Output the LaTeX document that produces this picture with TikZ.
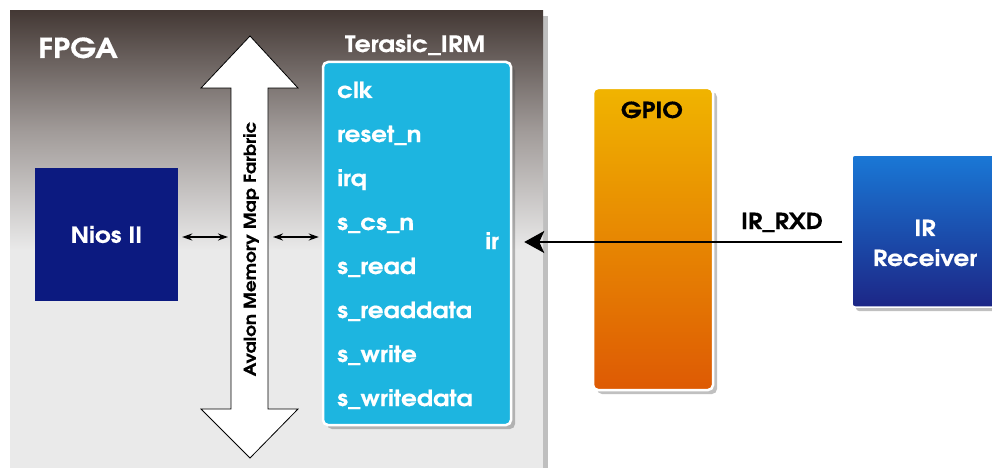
\documentclass[tikz,border=0pt]{standalone}
\usepackage{fontspec}
\setmainfont[FakeStretch=1.12]{TeX Gyre Adventor}
\newfontfamily\lblfont[FakeStretch=1.12, FakeBold=0.4]{TeX Gyre Adventor}
\usetikzlibrary{shadows,arrows.meta}
\definecolor{fpgatop}{HTML}{443935}
\definecolor{fpgamid}{HTML}{A19B99}
\definecolor{fpgabot}{HTML}{EAEAEA}
\definecolor{niosblue}{HTML}{0C1A80}
\definecolor{irmcyan}{HTML}{1DB5E0}
\definecolor{gpiotop}{HTML}{F0B400}
\definecolor{gpiobot}{HTML}{DE5A04}
\definecolor{irtop}{HTML}{1A78D6}
\definecolor{irbot}{HTML}{1C2686}
\tikzset{
  lbl/.style={font=\lblfont\bfseries\fontsize{22}{26}\selectfont, inner sep=0pt},
  sig/.style={lbl, text=white, anchor=base west},
  boxshadow/.style={drop shadow={shadow xshift=4pt, shadow yshift=-4pt, opacity=0.35, fill=black!70}},
  smallarrow/.style={{Stealth[length=10pt,width=7pt]}-{Stealth[length=10pt,width=7pt]}, line width=1.7pt},
}
\begin{document}
\begin{tikzpicture}[x=1pt,y=-1pt]
\clip (0,0) rectangle (992,468);
\fill[white] (0,0) rectangle (992,468);
% FPGA region
\fill[black!25] (543,16) rectangle (548,468);
\shade[top color=fpgatop, bottom color=fpgabot, middle color=fpgamid] (10,11) rectangle (543,251);
\fill[fpgabot] (10,250) rectangle (543,468);
\node[lbl, text=white, font=\lblfont\bfseries\fontsize{27.5}{30}\selectfont, anchor=base west] (fpga) at (38,58) {FPGA};
% Nios II
\node[fill=niosblue, minimum width=143pt, minimum height=133pt, inner sep=0pt] (nios) at (106.5,234.5) {};
\node[lbl, text=white] (niostext) at (nios.center) {Nios II};
% Avalon bus arrow
\draw[fill=white, line width=0.8pt] (231,88) -- (201,88) -- (250,36) -- (298,88) -- (268,88) -- (268,409) -- (298,409) -- (250,458) -- (201,409) -- (231,409) -- cycle;
\coordinate (busL) at (231,237);
\coordinate (busR) at (268,237);
\node[lbl, rotate=90, font=\lblfont\bfseries\fontsize{16.5}{18}\selectfont] (bustext) at (251,249) {Avalon Memory Map Farbric};
% Terasic_IRM
\node[lbl, text=white, font=\lblfont\bfseries\fontsize{22.5}{24}\selectfont, anchor=base] (irmtitle) at (415,52) {Terasic\_IRM};
\node[fill=irmcyan, draw=white, line width=2.5pt, rounded corners=5pt, minimum width=188pt, minimum height=363pt, boxshadow] (irm) at (417,243.5) {};
\node[sig] (clk) at (337,98) {clk};
\node[sig] (rst) at (337,142) {reset\_n};
\node[sig] (irq) at (337,186) {irq};
\node[sig] (cs) at (337,230) {s\_cs\_n};
\node[sig] (rd) at (337,274) {s\_read};
\node[sig] (rdd) at (337,318) {s\_readdata};
\node[sig] (wr) at (337,362) {s\_write};
\node[sig] (wrd) at (337,406) {s\_writedata};
\node[sig] (ir) at (485,249) {ir};
% small connectors
\draw[smallarrow] ([xshift=4pt]nios.east |- busL) -- ([xshift=-3pt]busL);
\draw[smallarrow] ([xshift=5pt]busR) -- ([xshift=-3pt]irm.west |- busR);
% GPIO
\node[top color=gpiotop, bottom color=gpiobot, draw=white, line width=2.5pt, rounded corners=5pt, minimum width=120pt, minimum height=302pt, boxshadow] (gpio) at (653,239) {};
\node[lbl, anchor=base] (gpiotext) at (652,118) {GPIO};
% IR Receiver
\node[top color=irtop, bottom color=irbot, draw=white, line width=1.5pt, rounded corners=3pt, minimum width=144pt, minimum height=152pt, boxshadow] (irr) at (924,231) {};
\node[lbl, text=white, align=center, font=\lblfont\bfseries\fontsize{22}{30}\selectfont] (irrtext) at (925,243) {IR\\Receiver};
% IR_RXD connector
\coordinate (rxdy) at (0,242);
\draw[line width=2pt, -{Stealth[length=20pt,width=22pt,inset=5pt]}, shorten <=9pt, shorten >=12pt] (irr.west |- rxdy) -- (irm.east |- rxdy);
\node[lbl, anchor=base] (rxd) at (782,229) {IR\_RXD};
\end{tikzpicture}
\end{document}
